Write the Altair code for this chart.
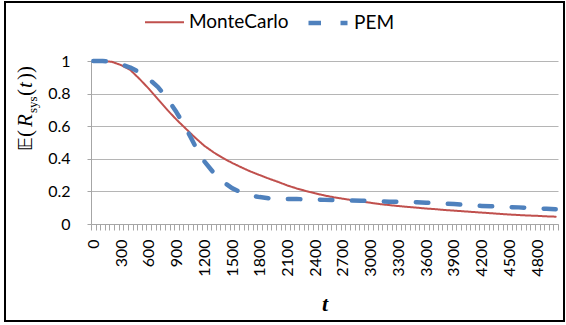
import altair as alt
import pandas as pd

# ---- data ----
series_names = ["MonteCarlo", "PEM"]
t_points = list(range(0, 5001, 100))          # sampled times
t_categories = list(range(0, 5001, 50))       # category axis (tick every 50)
monte_carlo = [1.0, 1.0, 0.995, 0.975, 0.945, 0.89, 0.83, 0.765, 0.70, 0.64,
               0.585, 0.53, 0.48, 0.44, 0.405, 0.375, 0.348, 0.322, 0.30, 0.278,
               0.258, 0.236, 0.218, 0.202, 0.188, 0.175, 0.164, 0.155, 0.146, 0.138,
               0.13, 0.122, 0.116, 0.11, 0.105, 0.10, 0.095, 0.091, 0.086, 0.082,
               0.078, 0.074, 0.07, 0.066, 0.062, 0.058, 0.055, 0.052, 0.05, 0.047,
               0.045]
pem = [1.0, 1.0, 0.995, 0.98, 0.96, 0.93, 0.89, 0.84, 0.77, 0.685,
       0.59, 0.48, 0.385, 0.315, 0.26, 0.22, 0.193, 0.175, 0.165, 0.158,
       0.155, 0.154, 0.153, 0.152, 0.150, 0.148, 0.147, 0.145, 0.144, 0.143,
       0.141, 0.139, 0.137, 0.136, 0.135, 0.133, 0.131, 0.128, 0.125, 0.122,
       0.118, 0.114, 0.111, 0.109, 0.107, 0.104, 0.102, 0.099, 0.095, 0.093,
       0.091]
y_ticks = [0, 0.2, 0.4, 0.6, 0.8, 1]
x_title = "t"

rows = []
for name, vals in zip(series_names, [monte_carlo, pem]):
    for t, v in zip(t_points, vals):
        rows.append({"t": t, "value": v, "series": name})
df = pd.DataFrame(rows)

W, H = 467, 163
RED, BLUE = "#C0504D", "#4F81BD"

lines = alt.Chart(df).mark_line(strokeCap="round", strokeJoin="round").encode(
    x=alt.X("t:O",
            scale=alt.Scale(domain=t_categories, paddingInner=0, paddingOuter=0),
            axis=alt.Axis(title=x_title, labelAngle=-90, labelOverlap=False,
                          labelExpr="datum.value % 300 === 0 ? datum.label : ''",
                          tickBand="extent", tickSize=6, labelPadding=9,
                          titleFont="Liberation Serif", titleFontStyle="italic",
                          titleFontWeight="bold", titleFontSize=22,
                          titleX=W / 2, titleY=86, titleBaseline="alphabetic",
                          titleAlign="center")),
    y=alt.Y("value:Q",
            scale=alt.Scale(domain=[0, 1], nice=False),
            axis=alt.Axis(title=None, values=y_ticks, format="~g", tickSize=4,
                          labelPadding=17, grid=True)),
    color=alt.Color("series:N", title=None,
                    scale=alt.Scale(domain=series_names, range=[RED, BLUE])),
    strokeDash=alt.StrokeDash("series:N", title=None,
                              scale=alt.Scale(domain=series_names,
                                              range=[[1, 0], [12.5, 19.5]])),
    strokeWidth=alt.StrokeWidth("series:N", title=None,
                                scale=alt.Scale(domain=series_names, range=[2, 4.5])),
)

border = alt.Chart(pd.DataFrame({"k": [0]})).mark_rect(
    fillOpacity=0, stroke="black", strokeWidth=2
).encode(x=alt.value(-86), x2=alt.value(473), y=alt.value(-59), y2=alt.value(260))

# y-axis title pieces: E( R_sys ( t ) )
title_pieces = [
    # text, x, y, size, style, font
    ("\U0001D53C", -59, 90, 19, "normal", "DejaVu Sans"),
    ("(", -59, 76, 21, "normal", "Liberation Serif"),
    ("R", -59, 66, 21, "italic", "Liberation Serif"),
    ("sys", -54, 52, 13, "normal", "Liberation Serif"),
    ("(", -59, 35, 21, "normal", "Liberation Serif"),
    ("t", -59, 27, 21, "italic", "Liberation Serif"),
    ("))", -59, 19, 21, "normal", "Liberation Serif"),
]
pieces = []
for txt, px, py, fs, st, fnt in title_pieces:
    pieces.append(
        alt.Chart(pd.DataFrame({"s": [txt]})).mark_text(
            x=px, y=py, angle=270, align="left", baseline="alphabetic",
            fontSize=fs, fontStyle=st, font=fnt, color="black"
        ).encode(text="s:N")
    )

chart = alt.layer(border, lines, *pieces).properties(
    width=W, height=H,
    padding={"left": 91, "top": 61, "right": 8, "bottom": 101},
    autosize=alt.AutoSizeParams(type="none"),
).configure_view(strokeOpacity=0).configure_axis(
    labelFont="Lato", labelFontSize=16, labelColor="black",
    domainColor="#A6A6A6", tickColor="#A6A6A6", gridColor="#B5B5B5",
).configure_axisX(grid=False).configure_legend(
    orient="none", legendX=53, legendY=-60, direction="horizontal",
    symbolType="stroke", symbolSize=1521, labelFont="Lato", labelFontSize=19,
    labelColor="black", labelOffset=4, columnPadding=10,
)

chart.save("out.html", embed_options={"renderer": "svg", "actions": False})
